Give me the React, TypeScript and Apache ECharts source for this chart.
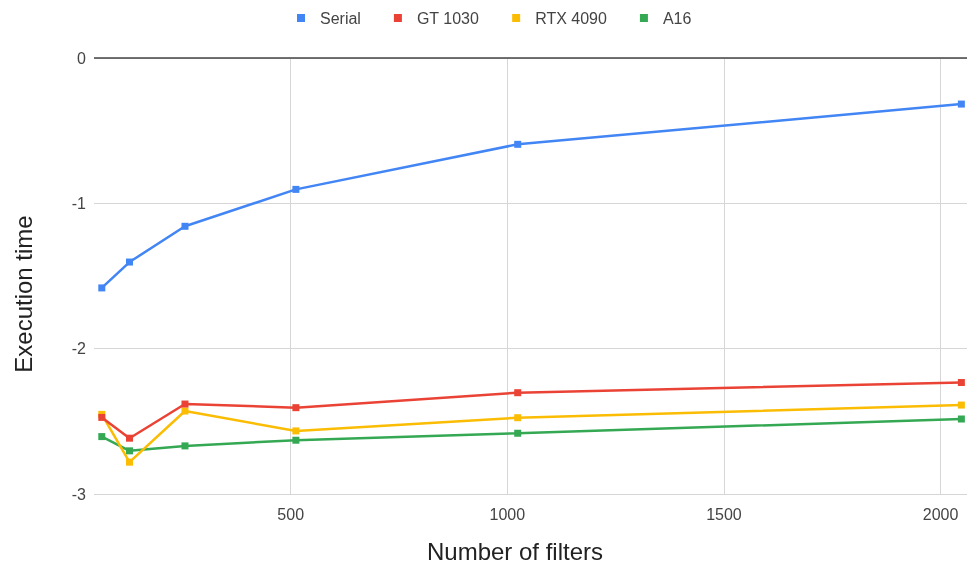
import React, { useEffect, useRef } from "react";
import * as echarts from "echarts";

const filters = [64, 128, 256, 512, 1024, 2048];
const serial = [-1.582, -1.404, -1.158, -0.904, -0.594, -0.317];
const gt1030 = [-2.473, -2.616, -2.381, -2.406, -2.303, -2.233];
const rtx4090 = [-2.452, -2.781, -2.429, -2.566, -2.475, -2.388];
const a16 = [-2.605, -2.703, -2.669, -2.63, -2.582, -2.484];

const xTicks = [500, 1000, 1500, 2000];

const seriesNames = ["Serial", "GT 1030", "RTX 4090", "A16"];
const seriesColors = ["#4285F4", "#EA4335", "#FBBC04", "#34A853"];
const seriesValues = [serial, gt1030, rtx4090, a16];

const xTitle = "Number of filters";
const yTitle = "Execution time";

const FONT = "'Liberation Sans', Arial, sans-serif";

export default function App() {
  const ref = useRef<HTMLDivElement>(null);
  useEffect(() => {
    if (!ref.current) return;
    const chart = echarts.init(ref.current, null, { renderer: "svg" });
    chart.setOption({
      animation: false,
      textStyle: { fontFamily: FONT },
      legend: {
        left: 292,
        top: 5,
        itemWidth: 8,
        itemHeight: 8,
        itemGap: 33,
        icon: "rect",
        textStyle: { fontSize: 16, color: "#444", padding: [0, 0, 0, 10], fontFamily: FONT },
        data: seriesNames,
      },
      grid: { left: 94, right: 3, top: 58, bottom: 74 },
      xAxis: {
        type: "value",
        min: 46,
        max: 2061,
        axisLine: { show: false },
        axisTick: { show: false, customValues: xTicks },
        axisLabel: {
          fontSize: 16,
          color: "#444",
          margin: 12,
          customValues: xTicks,
          formatter: (v: number) => String(v),
          fontFamily: FONT,
        },
        splitLine: {
          show: true,
          lineStyle: { color: "#d6d6d6", width: 1 },
        },
      },
      yAxis: {
        type: "value",
        min: -3,
        max: 0,
        interval: 1,
        axisLine: { show: false },
        axisTick: { show: false },
        axisLabel: { fontSize: 16, color: "#444", margin: 8, fontFamily: FONT },
        splitLine: { show: true, lineStyle: { color: "#d6d6d6", width: 1 } },
      },
      graphic: [
        {
          type: "text",
          x: 23,
          y: 294,
          rotation: Math.PI / 2,
          style: {
            text: yTitle,
            fontSize: 24,
            fill: "#222",
            fontFamily: FONT,
            align: "center",
            verticalAlign: "middle",
          },
        },
        {
          type: "text",
          x: 515,
          y: 551,
          style: {
            text: xTitle,
            fontSize: 24,
            fill: "#222",
            fontFamily: FONT,
            align: "center",
            verticalAlign: "middle",
          },
        },
      ],
      series: seriesNames.map((name, i) => ({
        name,
        type: "line",
        data: filters.map((f, j) => [f, seriesValues[i][j]]),
        symbol: "rect",
        symbolSize: 7,
        color: seriesColors[i],
        lineStyle: { width: 2.5, color: seriesColors[i] },
        itemStyle: { color: seriesColors[i] },
        z: 10 - i,
        markLine:
          i === 0
            ? {
                silent: true,
                symbol: "none",
                label: { show: false },
                lineStyle: { color: "#444", width: 1.5, type: "solid" },
                data: [{ yAxis: 0 }],
                z: 1,
              }
            : undefined,
      })),
    });
    return () => chart.dispose();
  }, []);
  return (
    <div
      ref={ref}
      style={{ position: "fixed", left: 0, top: 0, width: 970, height: 568 }}
    />
  );
}
